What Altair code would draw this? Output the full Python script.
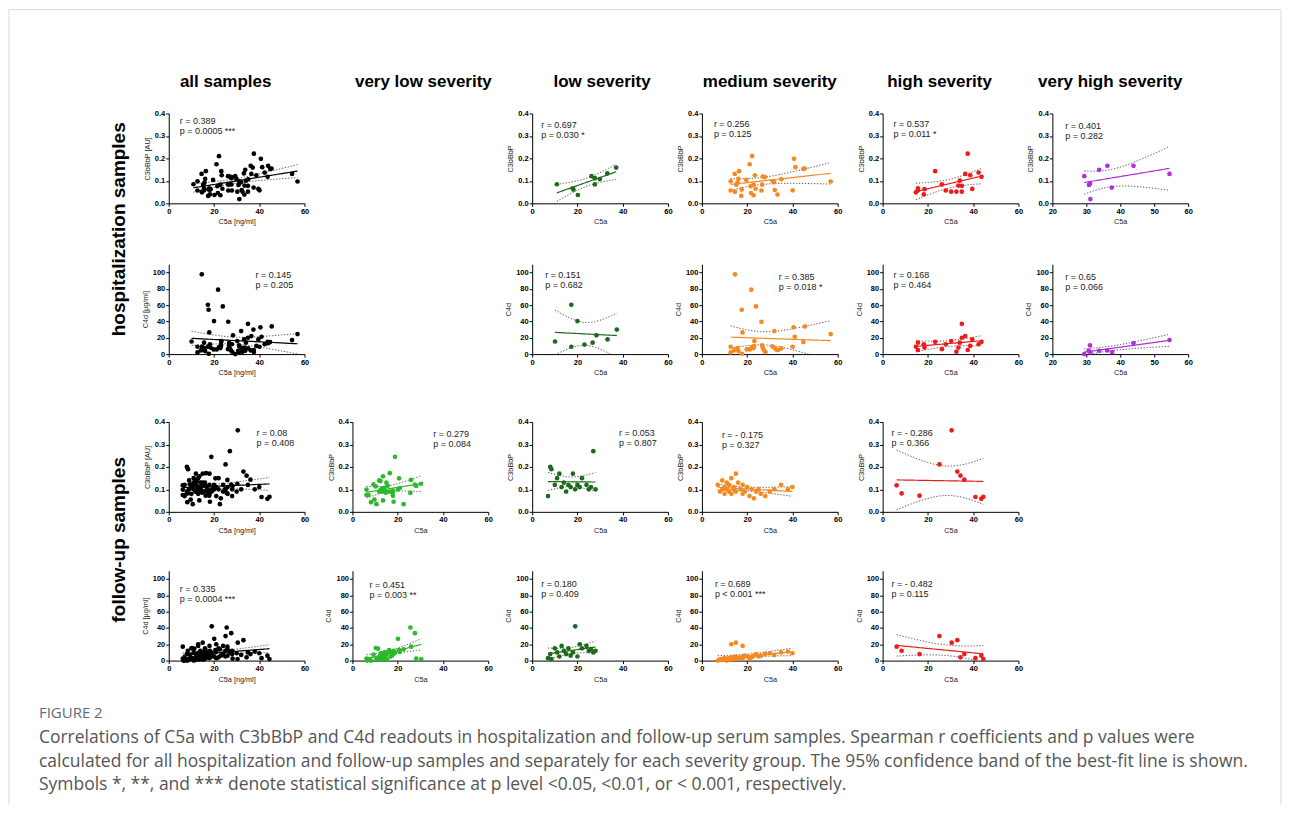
import altair as alt
import numpy as np
import pandas as pd

FONT = "Liberation Sans"
CAP_FONT = "Open Sans"

col_titles = ["all samples", "very low severity", "low severity",
              "medium severity", "high severity", "very high severity"]
row_titles = ["hospitalization samples", "follow-up samples"]
figure_label = "FIGURE 2"
caption_lines = [
    "Correlations of C5a with C3bBbP and C4d readouts in hospitalization and follow-up serum samples. Spearman r coefficients and p values were",
    "calculated for all hospitalization and follow-up samples and separately for each severity group. The 95% confidence band of the best-fit line is shown.",
    "Symbols *, **, and *** denote statistical significance at p level <0.05, <0.01, or < 0.001, respectively.",
]
group_colors = {"all": "#000000", "very low": "#2db82d", "low": "#1d6a1d",
                "medium": "#f5891f", "high": "#ee1b1b", "very high": "#b02fdd"}

# ---------------- hospitalization, C3bBbP ----------------
h_c3_low_x = [10.9, 17.9, 18.2, 20.2, 26.2, 27.7, 27.7, 29.9, 33.2, 37.1]
h_c3_low_y = [0.085, 0.067, 0.061, 0.037, 0.121, 0.112, 0.084, 0.108, 0.133, 0.159]
h_c3_med_x = [12.7, 12.7, 14.5, 14.6, 15.2, 15.8, 16.4, 16.1, 17.6, 17.4, 19.6, 21.1, 22.2, 21.5, 21.7, 22.8, 22.8,
              23.4, 23.7, 26.3, 26.9, 27.8, 26.6, 31.3, 31.9, 32.2, 33.4, 35.1, 40.1, 40.7, 41.3, 44.8, 45.4, 56.9]
h_c3_med_y = [0.098, 0.057, 0.131, 0.051, 0.083, 0.092, 0.143, 0.109, 0.061, 0.033, 0.104, 0.174, 0.210, 0.076,
              0.046, 0.083, 0.036, 0.125, 0.065, 0.057, 0.119, 0.117, 0.083, 0.098, 0.094, 0.059, 0.039, 0.107,
              0.058, 0.198, 0.161, 0.153, 0.155, 0.097]
h_c3_high_x = [14.7, 15.6, 15.6, 18.2, 18.5, 23.2, 26.2, 27.9, 30.3, 32.6, 34.1, 33.5, 35.0, 35.0, 36.5, 37.6,
               38.7, 39.6, 42.4, 43.7]
h_c3_high_y = [0.049, 0.067, 0.058, 0.040, 0.063, 0.143, 0.084, 0.057, 0.052, 0.052, 0.101, 0.079, 0.078, 0.052,
               0.131, 0.221, 0.125, 0.064, 0.137, 0.118]
h_c3_vhigh_x = [29.4, 30.8, 31.1, 31.2, 33.8, 36.2, 37.5, 43.9, 54.5]
h_c3_vhigh_y = [0.121, 0.082, 0.087, 0.019, 0.149, 0.167, 0.070, 0.167, 0.131]

# ---------------- hospitalization, C4d ----------------
h_c4_low_x = [10.1, 17.3, 17.3, 20.0, 23.1, 26.7, 28.4, 33.3, 37.4]
h_c4_low_y = [15.4, 60.4, 9.0, 40.4, 11.6, 14.0, 23.0, 18.0, 30.0]
h_c4_med_x = [14.6, 21.8, 17.6, 23.9, 17.9, 26.3, 23.2, 32.0, 40.5, 41.0, 45.5, 44.8, 56.9, 40.1, 12.7, 12.7,
              14.2, 15.7, 16.1, 17.7, 19.8, 21.2, 22.2, 22.8, 23.1, 26.6, 26.9, 27.5, 28.1, 31.2, 32.2, 32.9,
              33.7, 35.1]
h_c4_med_y = [97.6, 78.8, 54.3, 58.4, 26.5, 39.6, 15.9, 28.2, 32.7, 21.2, 33.9, 14.7, 24.5, 9.0, 9.0, 2.0, 4.5,
              7.3, 3.7, 0.4, 5.7, 5.7, 8.6, 7.3, 9.8, 10.6, 7.3, 4.5, 2.4, 9.4, 7.3, 5.3, 4.9, 6.9]
h_c4_high_x = [14.7, 15.6, 15.6, 18.2, 18.5, 23.2, 26.2, 27.9, 30.3, 32.6, 34.1, 33.5, 35.0, 35.0, 36.5, 37.6,
               38.7, 39.6, 42.4, 43.7]
h_c4_high_y = [9, 14, 5, 12, 8, 15, 6, 12, 16, 3, 14, 8, 37, 20, 22, 5, 10, 18, 12, 15]
h_c4_vhigh_x = [29.4, 30.7, 31.1, 31.2, 33.8, 36.2, 37.6, 43.9, 54.5]
h_c4_vhigh_y = [0.0, 4.1, 10.6, 2.0, 4.1, 4.5, 2.4, 13.4, 17.1]

# ---------------- follow-up, C3bBbP ----------------
f_c3_vlow_x = [6.2, 6.2, 7.1, 8.2, 9.3, 9.7, 10.3, 10.6, 11.8, 12.4, 11.8, 12.4, 12.9, 13.2, 13.5, 13.5, 14.1,
               14.3, 14.7, 15.0, 15.6, 16.2, 16.5, 17.6, 17.9, 18.2, 18.8, 17.9, 20.1, 20.6, 20.9, 22.6, 25.6,
               25.9, 27.6, 28.2, 30.3]
f_c3_vlow_y = [0.099, 0.075, 0.075, 0.043, 0.122, 0.054, 0.113, 0.034, 0.140, 0.137, 0.090, 0.097, 0.103, 0.090,
               0.051, 0.158, 0.107, 0.093, 0.085, 0.130, 0.116, 0.090, 0.172, 0.085, 0.072, 0.045, 0.245, 0.093,
               0.100, 0.149, 0.106, 0.034, 0.084, 0.142, 0.121, 0.115, 0.125]
f_c3_low_x = [7, 8, 8.5, 10, 11, 12, 13, 14, 15, 16, 17, 18, 19, 20, 21, 22, 24, 25, 26, 27, 28]
f_c3_low_y = [0.07, 0.20, 0.19, 0.12, 0.15, 0.17, 0.11, 0.13, 0.09, 0.12, 0.11, 0.17, 0.10, 0.12, 0.11, 0.15,
              0.12, 0.10, 0.11, 0.27, 0.10]
f_c3_med_x = [7, 8, 9, 9, 10, 10, 11, 11, 12, 12, 13, 13, 14, 14, 15, 15, 16, 17, 18, 18, 19, 20, 21, 22, 23, 24,
              25, 26, 28, 30, 32, 35, 38, 40]
f_c3_med_y = [0.12, 0.09, 0.14, 0.10, 0.11, 0.08, 0.13, 0.10, 0.09, 0.12, 0.15, 0.08, 0.10, 0.11, 0.17, 0.09,
              0.13, 0.10, 0.08, 0.12, 0.09, 0.11, 0.07, 0.10, 0.06, 0.09, 0.10, 0.08, 0.07, 0.09, 0.10, 0.12,
              0.10, 0.11]
f_c3_high_x = [6.2, 8.4, 16.3, 25.1, 30.5, 33.0, 34.4, 36.1, 41.0, 43.6, 44.5]
f_c3_high_y = [0.118, 0.082, 0.072, 0.211, 0.363, 0.179, 0.161, 0.143, 0.066, 0.058, 0.067]

# ---------------- follow-up, C4d ----------------
f_c4_vlow_x = [6.2, 6.5, 7.4, 8.2, 9.3, 10.3, 10.6, 11.3, 11.8, 12.1, 12.4, 12.8, 13.2, 13.5, 13.8, 14.3, 14.7,
               15.0, 15.3, 15.7, 16.2, 16.8, 17.2, 17.6, 17.9, 18.2, 18.8, 20.1, 20.6, 20.9, 22.6, 25.6, 25.9,
               27.6, 28.2, 30.4]
f_c4_vlow_y = [2.4, 0.0, 2.0, 0.0, 7.3, 15.4, 2.4, 14.6, 1.2, 4.9, 8.1, 9.3, 4.0, 1.2, 6.5, 10.5, 2.4, 7.3, 1.2,
               10.5, 13.0, 4.9, 10.5, 6.5, 8.1, 12.1, 9.7, 26.7, 13.0, 10.5, 13.8, 40.5, 17.0, 33.6, 2.4, 2.0]
f_c4_low_x = [7, 8, 8.5, 10, 11, 12, 13, 14, 15, 16, 17, 18, 19, 20, 21, 22, 24, 25, 26, 27, 28]
f_c4_low_y = [3, 8, 2, 15, 10, 5, 18, 12, 8, 15, 6, 10, 42, 5, 20, 15, 18, 12, 14, 10, 12]
f_c4_med_x = [7, 8, 9, 9, 10, 10, 11, 11, 12, 12, 13, 13, 14, 14, 15, 15, 16, 17, 18, 18, 19, 20, 21, 22, 23, 24,
              25, 26, 28, 30, 32, 35, 38, 40]
f_c4_med_y = [0, 1, 2, 1, 3, 2, 0, 2, 3, 1, 20, 4, 2, 3, 22, 5, 2, 4, 3, 18, 6, 5, 3, 4, 6, 8, 5, 6, 8, 9, 7, 10,
              11, 9]
f_c4_high_x = [6.2, 8.4, 16.3, 25.1, 30.5, 33.0, 34.4, 36.1, 41.0, 43.6, 44.5]
f_c4_high_y = [17, 12, 8, 30, 22, 25, 4, 8, 3, 6, 2]

# ---------------- annotations ----------------
ann_row1 = [["r = 0.389", "p = 0.0005 ***"], None, ["r = 0.697", "p = 0.030 *"], ["r = 0.256", "p = 0.125"],
            ["r = 0.537", "p = 0.011 *"], ["r = 0.401", "p = 0.282"]]
ann_row2 = [["r = 0.145", "p = 0.205"], None, ["r = 0.151", "p = 0.682"], ["r = 0.385", "p = 0.018 *"],
            ["r = 0.168", "p = 0.464"], ["r = 0.65", "p = 0.066"]]
ann_row3 = [["r = 0.08", "p = 0.408"], ["r = 0.279", "p = 0.084"], ["r = 0.053", "p = 0.807"],
            ["r = - 0.175", "p = 0.327"], ["r = - 0.286", "p = 0.366"], None]
ann_row4 = [["r = 0.335", "p = 0.0004 ***"], ["r = 0.451", "p = 0.003 **"], ["r = 0.180", "p = 0.409"],
            ["r = 0.689", "p < 0.001 ***"], ["r = - 0.482", "p = 0.115"], None]

# annotation placement (pixels from plot top-left: left edge, first-line centre)
ann_pos = [
    [(11, 7), None, (9, 11), (12, 10), (11, 10), (13, 12)],
    [(87, 11), None, (13, 11), (77, 13), (11, 11), (13, 12.5)],
    [(88, 11), (81, 12), (87, 11), (20, 13), (9, 11), None],
    [(11, 18), (17, 14.5), (9, 13), (13, 13), (9, 13), None],
]

# ---------------- layout ----------------
PW, PH = 136, 90
COL_GAPS = [48, 44, 34, 45, 34]
ROW_GAPS = [61, 68, 59]
col_title_cx = [57, 71, 70, 68, 57, 58]

one = pd.DataFrame({"a": [0]})


def t95(df):
    z = 1.959964
    return (z + (z ** 3 + z) / (4 * df) + (5 * z ** 5 + 16 * z ** 3 + 3 * z) / (96 * df ** 2)
            + (3 * z ** 7 + 19 * z ** 5 + 17 * z ** 3 - 15 * z) / (384 * df ** 3))


def fit_frame(x, y, k=48):
    x = np.asarray(x, float)
    y = np.asarray(y, float)
    n = len(x)
    mx, my = x.mean(), y.mean()
    sxx = ((x - mx) ** 2).sum()
    b = ((x - mx) * (y - my)).sum() / sxx
    a = my - b * mx
    s = np.sqrt(((y - a - b * x) ** 2).sum() / (n - 2))
    xs = np.linspace(x.min(), x.max(), k)
    yh = a + b * xs
    half = t95(n - 2) * s * np.sqrt(1.0 / n + (xs - mx) ** 2 / sxx)
    return pd.DataFrame({"x": xs, "fit": yh, "lo": yh - half, "hi": yh + half})


def text_layer(text, dx, dy, **kw):
    return alt.Chart(one).mark_text(text=text, **kw).encode(x=alt.value(dx), y=alt.value(dy))


def panel(x, y, color, kind, col, ann, pos, extras):
    if kind == "c3":
        ydom, yvals, yfmt = [0, 0.4], [0, 0.1, 0.2, 0.3, 0.4], ".1f"
        ytitle = "C3bBbP [AU]" if col == 0 else "C3bBbP"
    else:
        ydom, yvals, yfmt = [0, 110], [0, 20, 40, 60, 80, 100], "d"
        ytitle = "C4d [µg/ml]" if col == 0 else "C4d"
    if col == 5:
        xdom, xvals = [20, 60], [20, 30, 40, 50, 60]
    else:
        xdom, xvals = [0, 60], [0, 20, 40, 60]
    xtitle = "C5a [ng/ml]" if col == 0 else "C5a"
    xs = alt.Scale(domain=xdom, nice=False, zero=False)
    ys = alt.Scale(domain=ydom, nice=False, zero=False)
    xa = alt.Axis(values=xvals, title=xtitle, format="d")
    ya = alt.Axis(values=yvals, title=ytitle, format=yfmt)
    X = alt.X("x:Q", scale=xs, axis=xa)
    fdf = fit_frame(x, y)
    fit = alt.Chart(fdf)
    band_kw = dict(clip=True, color="#444444", strokeWidth=0.9, strokeDash=[1.3, 1.7])
    lo = fit.mark_line(**band_kw).encode(x=X, y=alt.Y("lo:Q", scale=ys, axis=ya))
    hi = fit.mark_line(**band_kw).encode(x=X, y=alt.Y("hi:Q", scale=ys, axis=ya))
    ln = fit.mark_line(clip=True, color=color, strokeWidth=1.2).encode(x=X, y=alt.Y("fit:Q", scale=ys, axis=ya))
    pts = alt.Chart(pd.DataFrame({"x": x, "y": y})).mark_circle(size=22, color=color, opacity=1).encode(
        x=X, y=alt.Y("y:Q", scale=ys, axis=ya))
    txt = text_layer(ann, pos[0], pos[1] - 3.8, align="left", baseline="top", font=FONT, fontSize=9,
                     lineHeight=10, color="#222222")
    return alt.layer(lo, hi, ln, pts, txt, *extras).properties(width=PW, height=PH)


def spacer(w, h, extras=()):
    base = alt.Chart(one).mark_text(text=" ").encode(x=alt.value(0), y=alt.value(0))
    return alt.layer(base, *extras).properties(width=w, height=h)


rows = [
    ("c3", {1: None, 2: (h_c3_low_x, h_c3_low_y), 3: (h_c3_med_x, h_c3_med_y), 4: (h_c3_high_x, h_c3_high_y),
            5: (h_c3_vhigh_x, h_c3_vhigh_y)}, ann_row1),
    ("c4", {1: None, 2: (h_c4_low_x, h_c4_low_y), 3: (h_c4_med_x, h_c4_med_y), 4: (h_c4_high_x, h_c4_high_y),
            5: (h_c4_vhigh_x, h_c4_vhigh_y)}, ann_row2),
    ("c3", {1: (f_c3_vlow_x, f_c3_vlow_y), 2: (f_c3_low_x, f_c3_low_y), 3: (f_c3_med_x, f_c3_med_y),
            4: (f_c3_high_x, f_c3_high_y), 5: None}, ann_row3),
    ("c4", {1: (f_c4_vlow_x, f_c4_vlow_y), 2: (f_c4_low_x, f_c4_low_y), 3: (f_c4_med_x, f_c4_med_y),
            4: (f_c4_high_x, f_c4_high_y), 5: None}, ann_row4),
]
group_names = {1: "very low", 2: "low", 3: "medium", 4: "high", 5: "very high"}

col_title_kw = dict(font=FONT, fontSize=17, fontWeight="bold", color="black", align="center", baseline="middle")
row_title_kw = dict(font=FONT, fontSize=19, fontWeight="bold", color="black", align="center", baseline="middle",
                    angle=270)
frame_kw = dict(color="#d9d9d9", strokeWidth=1)

panels = {}
for r, (kind, data, anns) in enumerate(rows):
    for c in range(6):
        extras = []
        if r == 0:
            extras.append(text_layer(col_titles[c], col_title_cx[c], -32, **col_title_kw))
        if c == 0 and r == 0:
            extras.append(text_layer(row_titles[0], -50, 116, **row_title_kw))
            extras.append(alt.Chart(one).mark_rule(**frame_kw).encode(
                x=alt.value(-160), x2=alt.value(1114), y=alt.value(-104)))
            extras.append(alt.Chart(one).mark_rule(**frame_kw).encode(
                x=alt.value(-160), y=alt.value(-104), y2=alt.value(692)))
            extras.append(alt.Chart(one).mark_rule(**frame_kw).encode(
                x=alt.value(1114), y=alt.value(-104), y2=alt.value(692)))
        if c == 0 and r == 2:
            extras.append(text_layer(row_titles[1], -50, 118, **row_title_kw))
        if c == 0 and r == 3:
            extras.append(text_layer(figure_label, -130, 142.5, font=CAP_FONT, fontSize=15, color="#5d6d7e",
                                     align="left", baseline="middle"))
            extras.append(text_layer(caption_lines, -130, 159, font=CAP_FONT, fontSize=17.5, color="#555555",
                                     align="left", baseline="top", lineHeight=23.5))
        if c == 0:
            xs_all, ys_all = [], []
            for k in sorted(data):
                if data[k] is not None:
                    xs_all += list(data[k][0])
                    ys_all += list(data[k][1])
            panels[(r, c)] = panel(xs_all, ys_all, group_colors["all"], kind, c, anns[c], ann_pos[r][c], extras)
        elif data[c] is None:
            panels[(r, c)] = spacer(PW, PH, extras)
        else:
            panels[(r, c)] = panel(data[c][0], data[c][1], group_colors[group_names[c]], kind, c, anns[c],
                                   ann_pos[r][c], extras)

col_w = []
for c in range(6):
    col_w.append(PW)
    if c < 5:
        col_w.append(COL_GAPS[c])
row_h = []
for r in range(4):
    row_h.append(PH)
    if r < 3:
        row_h.append(ROW_GAPS[r])

cells = []
for R in range(len(row_h)):
    for C in range(len(col_w)):
        if R % 2 == 0 and C % 2 == 0:
            cells.append(panels[(R // 2, C // 2)])
        else:
            cells.append(spacer(col_w[C], row_h[R]))

chart = alt.concat(*cells, columns=len(col_w), spacing=0, bounds="flush", align="each").configure_view(
    stroke=None
).configure_axis(
    domainColor="black", domainWidth=1, tickColor="black", tickWidth=1, tickSize=3,
    labelFont=FONT, labelFontSize=7.5, labelFontWeight="bold", labelColor="black", labelPadding=1,
    labelFlush=False, titleFont=FONT, titleFontSize=7.3, titleFontWeight="normal", titleColor="#222222",
    titlePadding=3, grid=False
).properties(padding=0, background="white")

chart.save("out.html", embed_options={"renderer": "svg", "actions": False})
